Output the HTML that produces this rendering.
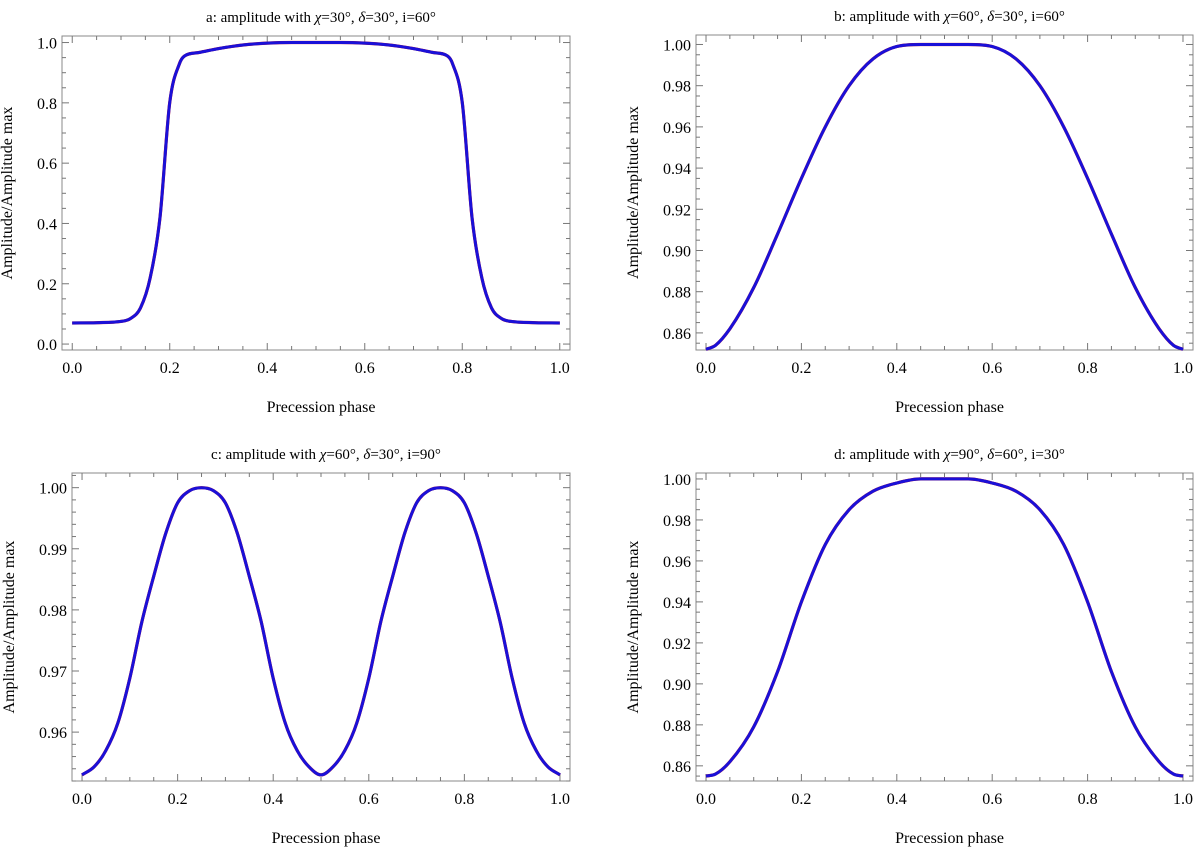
<!DOCTYPE html>
<html><head><meta charset="utf-8"><style>
html,body{margin:0;padding:0;background:#fff}
svg{display:block;font-family:"Liberation Serif",serif}
</style></head><body>
<svg id="chart" width="1200" height="851" viewBox="0 0 1200 851"></svg>
<script>
const xs_a=[0,0.05,0.1,0.12,0.14,0.16,0.18,0.2,0.22,0.23,0.26,0.3,0.35,0.4,0.45,0.5,0.55,0.6,0.65,0.7,0.74,0.77,0.78,0.8,0.82,0.84,0.86,0.88,0.9,0.95,1];
const ys_a=[0.07,0.071,0.075,0.085,0.12,0.22,0.42,0.8,0.93,0.955,0.967,0.98,0.992,0.998,1.0,1.0,1.0,0.998,0.992,0.98,0.967,0.955,0.93,0.8,0.42,0.22,0.12,0.085,0.075,0.071,0.07];
const xs_b=[0,0.02,0.05,0.1,0.15,0.2,0.25,0.3,0.35,0.4,0.45,0.5,0.55,0.6,0.65,0.7,0.75,0.8,0.85,0.9,0.95,0.98,1];
const ys_b=[0.852,0.854,0.862,0.882,0.908,0.935,0.96,0.98,0.993,0.999,1.0,1.0,1.0,0.999,0.993,0.98,0.96,0.935,0.908,0.882,0.862,0.854,0.852];
const xs_c=[0,0.025,0.05,0.075,0.1,0.125,0.15,0.175,0.2,0.225,0.25,0.275,0.3,0.325,0.35,0.375,0.4,0.425,0.45,0.475,0.5,0.525,0.55,0.575,0.6,0.625,0.65,0.675,0.7,0.725,0.75,0.775,0.8,0.825,0.85,0.875,0.9,0.925,0.95,0.975,1];
const ys_c=[0.953,0.9543,0.957,0.9615,0.9688,0.978,0.9855,0.9925,0.9975,0.9995,1.0,0.9995,0.9975,0.9925,0.9855,0.978,0.9688,0.9615,0.957,0.9543,0.953,0.9543,0.957,0.9615,0.9688,0.978,0.9855,0.9925,0.9975,0.9995,1.0,0.9995,0.9975,0.9925,0.9855,0.978,0.9688,0.9615,0.957,0.9543,0.953];
const xs_d=[0,0.02,0.05,0.1,0.15,0.2,0.25,0.3,0.35,0.4,0.45,0.5,0.55,0.6,0.65,0.7,0.75,0.8,0.85,0.9,0.95,0.98,1];
const ys_d=[0.855,0.856,0.862,0.879,0.906,0.94,0.968,0.985,0.994,0.998,1.0,1.0,1.0,0.998,0.994,0.985,0.968,0.94,0.906,0.879,0.862,0.856,0.855];
const xticks=[0,0.2,0.4,0.6,0.8,1.0];
const xtickLabels=["0.0","0.2","0.4","0.6","0.8","1.0"];
const yt_a=[0,0.2,0.4,0.6,0.8,1.0], ytl_a=["0.0","0.2","0.4","0.6","0.8","1.0"];
const yt_b=[0.86,0.88,0.90,0.92,0.94,0.96,0.98,1.00], ytl_b=["0.86","0.88","0.90","0.92","0.94","0.96","0.98","1.00"];
const yt_c=[0.96,0.97,0.98,0.99,1.00], ytl_c=["0.96","0.97","0.98","0.99","1.00"];
const yt_d=yt_b, ytl_d=ytl_b;

const NS="http://www.w3.org/2000/svg";
const svg=document.getElementById('chart');
function mk(tag,attrs,parent){const e=document.createElementNS(NS,tag);for(const k in attrs)e.setAttribute(k,attrs[k]);(parent||svg).appendChild(e);return e;}

function monoPath(P){
  const n=P.length, d=[], m=[];
  for(let i=0;i<n-1;i++){d.push((P[i+1][1]-P[i][1])/(P[i+1][0]-P[i][0]));}
  m[0]=d[0]; m[n-1]=d[n-2];
  for(let i=1;i<n-1;i++){ m[i]=(d[i-1]*d[i]<=0)?0:(d[i-1]+d[i])/2; }
  for(let i=0;i<n-1;i++){
    if(d[i]===0){m[i]=0;m[i+1]=0;continue;}
    const a=m[i]/d[i], b=m[i+1]/d[i], s=a*a+b*b;
    if(s>9){const t=3/Math.sqrt(s);m[i]=t*a*d[i];m[i+1]=t*b*d[i];}
  }
  let s='M'+P[0][0].toFixed(1)+' '+P[0][1].toFixed(1);
  for(let i=0;i<n-1;i++){
    const h=(P[i+1][0]-P[i][0])/3;
    s+=`C${(P[i][0]+h).toFixed(1)} ${(P[i][1]+m[i]*h).toFixed(1)} ${(P[i+1][0]-h).toFixed(1)} ${(P[i+1][1]-m[i+1]*h).toFixed(1)} ${P[i+1][0].toFixed(1)} ${P[i+1][1].toFixed(1)}`;
  }
  return s;
}

function panel(id,title,box,ydom,xsArr,ysArr,yt,ytl,yminor){
  const g=mk('g',{});
  
  
  const [L,T,R,B]=box, xd=[-0.021,1.021];
  const sx=v=>L+(v-xd[0])/(xd[1]-xd[0])*(R-L);
  const sy=v=>B-(v-ydom[0])/(ydom[1]-ydom[0])*(B-T);
  const t=mk('text',{x:(L+R)/2+5,y:T-14,'text-anchor':'middle','font-size':15},g);
  
  
  t.innerHTML=title;
  const fr=mk('rect',{x:L,y:T,width:R-L,height:B-T,fill:'none',stroke:'#888','stroke-width':1},g);
  
  
  for(let v=0;v<=1.0001;v+=0.05){
    const major=Math.abs(v*5-Math.round(v*5))<1e-6, len=major?7:4, x=sx(v);
    mk('line',{x1:x,y1:B,x2:x,y2:B-len,stroke:'#777'},g);
    mk('line',{x1:x,y1:T,x2:x,y2:T+len,stroke:'#777'},g);
  }
  xticks.forEach((v,i)=>{const e=mk('text',{x:sx(v),y:B+23,'text-anchor':'middle','font-size':16},g);
    
    
    e.textContent=xtickLabels[i];});
  const step=yt[1]-yt[0];
  const n0=Math.ceil((ydom[0]-1e-9)/yminor), n1=Math.floor((ydom[1]+1e-9)/yminor);
  for(let n=n0;n<=n1;n++){
    const v=n*yminor; const r=(v-yt[0])/step; const major=Math.abs(r-Math.round(r))<1e-6;
    const len=major?7:4, y=sy(v);
    mk('line',{x1:L,y1:y,x2:L+len,y2:y,stroke:'#777'},g);
    mk('line',{x1:R,y1:y,x2:R-len,y2:y,stroke:'#777'},g);
  }
  yt.forEach((v,i)=>{const e=mk('text',{x:L-5,y:sy(v)+6,'text-anchor':'end','font-size':16},g);
    
    
    e.textContent=ytl[i];});
  const xl=mk('text',{x:(L+R)/2+5,y:B+62,'text-anchor':'middle','font-size':16},g);
  
  
  xl.textContent='Precession phase';
  const yx=L-(ytl[0].length===3?50:58), yc=(T+B)/2;
  const yl=mk('text',{x:yx,y:yc,'text-anchor':'middle','font-size':16,transform:`rotate(-90 ${yx} ${yc})`},g);
  
  
  yl.textContent='Amplitude/Amplitude max';
  const pts=xsArr.map((v,i)=>[sx(v),sy(ysArr[i])]);
  const d=monoPath(pts);
  const red=mk('path',{d:d,fill:'none',stroke:'#d01010','stroke-width':3.2,'stroke-linejoin':'round'},g);
  
  
  const blue=mk('path',{d:d,fill:'none',stroke:'#1a10d8','stroke-width':3,'stroke-linejoin':'round'},g);
  
  
}
const tt=(a,b,c,l)=>`${l}: amplitude with <tspan font-style="italic">χ</tspan>=${a}°, <tspan font-style="italic">δ</tspan>=${b}°, i=${c}°`;
panel('a',tt(30,30,60,'a'),[62,36,570,350],[-0.0197,1.0217],xs_a,ys_a,yt_a,ytl_a,0.05);
panel('b',tt(60,30,60,'b'),[696,35,1193,350],[0.8517,1.0046],xs_b,ys_b,yt_b,ytl_b,0.005);
panel('c',tt(60,30,90,'c'),[72,473,570,781],[0.9520,1.0024],xs_c,ys_c,yt_c,ytl_c,0.002);
panel('d',tt(90,60,30,'d'),[696,473,1193,781],[0.8526,1.0029],xs_d,ys_d,yt_d,ytl_d,0.005);
</script>
</body></html>
